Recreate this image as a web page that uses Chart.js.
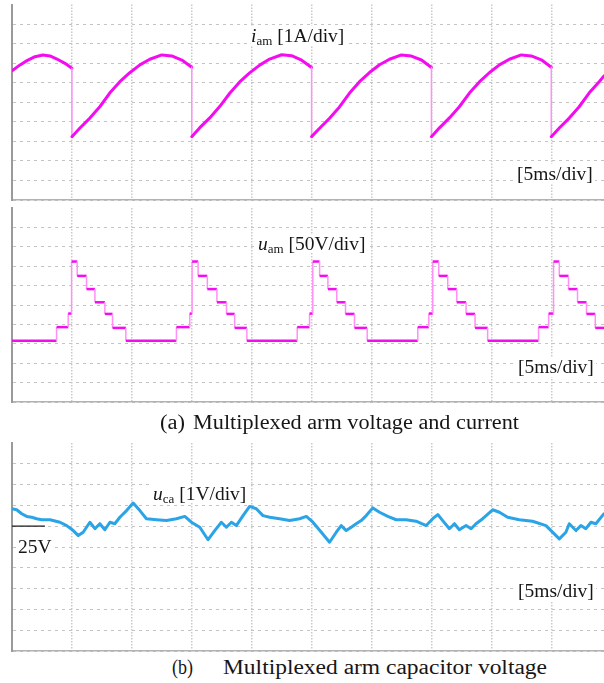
<!DOCTYPE html>
<html>
<head>
<meta charset="utf-8">
<script src="https://cdn.jsdelivr.net/npm/chart.js@4.4.1/dist/chart.umd.min.js"></script>
<style>
  html, body { margin: 0; padding: 0; background: #fff; }
  #page { position: relative; width: 604px; height: 683px; overflow: hidden;
          font-family: 'Liberation Serif', 'Times New Roman', serif; color: #161616; }
  canvas { position: absolute; left: 0; }
  .lbl { position: absolute; font-size: 19.5px; line-height: 19.5px; background: #fff;
         padding: 0 2px; white-space: nowrap; }
  .lbl sub { font-size: 13px; vertical-align: -3px; line-height: 0; }
  .cap { position: absolute; font-size: 20px; line-height: 20px; white-space: nowrap;
         transform-origin: 0 50%; }
</style>
</head>
<body>
<div id="page">
  <canvas id="cCurrent" width="604" height="202" style="top:0"></canvas>
  <canvas id="cVoltage" width="604" height="200" style="top:204px"></canvas>
  <canvas id="cCap" width="604" height="214" style="top:439px"></canvas>

  <div class="lbl" style="left:249px; top:25.5px"><i>i</i><sub>am</sub> [1A/div]</div>
  <div class="lbl" style="left:515px; top:163.5px">[5ms/div]</div>
  <div class="lbl" style="left:256px; top:233.5px"><i>u</i><sub>am</sub> [50V/div]</div>
  <div class="lbl" style="left:516px; top:357px">[5ms/div]</div>
  <div class="lbl" style="left:151px; top:483.5px"><i>u</i><sub>ca</sub> [1V/div]</div>
  <div class="lbl" style="left:16px; top:537px">25V</div>
  <div class="lbl" style="left:516px; top:581px">[5ms/div]</div>

  <div class="cap" id="capA1" style="left:160px; top:412px">(a)</div>
  <div class="cap" id="capA2" style="left:193px; top:412px">Multiplexed arm voltage and current</div>
  <div class="cap" id="capB1" style="left:172px; top:657px">(b)</div>
  <div class="cap" id="capB2" style="left:223px; top:657px">Multiplexed arm capacitor voltage</div>
</div>

<script>
// time base: 5 ms/div, screen ends a little before 50 ms
const T_END = 49.4;
const timeDivs = [0, 5, 10, 15, 20, 25, 30, 35, 40, 45];

// arm current i_am [A], 1 A/div
const currentDivs = [-5, -4, -3, -2, -1, 0, 1, 2, 3, 4];
const currentTime = [
  0, 0.67, 1.25, 1.92, 2.58, 3.17, 3.75, 4.42, 5,
  5, 5.67, 6.5, 7.33, 8.17, 9, 9.83, 10.67, 11.5, 12.5, 13.33, 14.17, 15,
  15, 15.67, 16.5, 17.33, 18.17, 19, 19.83, 20.67, 21.5, 22.5, 23.33, 24.17, 25,
  25, 25.67, 26.5, 27.33, 28.17, 29, 29.83, 30.67, 31.5, 32.5, 33.33, 34.17, 35,
  35, 35.67, 36.5, 37.33, 38.17, 39, 39.83, 40.67, 41.5, 42.5, 43.33, 44.17, 45,
  45, 45.67, 46.5, 47.33, 48.17, 49, 49.4
];
const currentVal = [
  1.61, 1.91, 2.13, 2.33, 2.42, 2.37, 2.21, 1.99, 1.74,
  -1.76, -1.32, -0.81, -0.23, 0.48, 1.05, 1.51, 1.91, 2.20, 2.42, 2.37, 2.16, 1.79,
  -1.76, -1.30, -0.80, -0.22, 0.46, 1.04, 1.50, 1.90, 2.21, 2.43, 2.38, 2.15, 1.78,
  -1.76, -1.33, -0.82, -0.24, 0.47, 1.05, 1.52, 1.92, 2.20, 2.42, 2.36, 2.16, 1.78,
  -1.76, -1.31, -0.80, -0.23, 0.47, 1.04, 1.51, 1.91, 2.20, 2.42, 2.37, 2.17, 1.79,
  -1.76, -1.32, -0.81, -0.23, 0.48, 1.05, 1.35
];

// arm voltage u_am [V], 50 V/div; each level holds until the next switching instant
const voltDivs = [-158, -108, -58, -8, 42, 92, 142, 192, 242, 292];
const voltTime = [
  0, 3.72, 4.69, 4.97, 5.44, 6.22, 6.92, 7.75, 8.39, 9.5,
  13.72, 14.83, 15.03, 15.53, 16.3, 17.1, 17.9, 18.58, 19.6,
  23.8, 24.83, 25.1, 25.67, 26.36, 27.1, 27.83, 28.58, 29.64,
  33.86, 34.78, 35.11, 35.61, 36.36, 37.11, 37.89, 38.64, 39.69,
  43.94, 44.78, 45.19, 45.67, 46.44, 47.19, 47.94, 48.67, 49.4
];
const voltLevel = [
  0, 35, 70, 204, 167, 133, 99, 69, 33, 0,
  35, 70, 204, 167, 133, 99, 69, 33, 0,
  35, 70, 204, 167, 133, 99, 69, 33, 0,
  35, 70, 204, 167, 133, 99, 69, 33, 0,
  35, 70, 204, 167, 133, 99, 69, 33, 33
];

// capacitor voltage u_ca [V], 1 V/div, 25 V reference
const capDivs = [19, 20, 21, 22, 23, 24, 25, 26, 27, 28];
const capRef = 25;
const capRefEnd = 2.75;
const capTime = [
  0, 0.39, 0.81, 1.23, 1.64, 2.06, 2.48, 3.17, 4.0, 4.56,
  5.11, 5.53, 5.94, 6.5, 6.92, 7.33, 7.75, 8.17, 8.58, 9.0,
  9.56, 10.11, 10.67, 11.22, 12.06, 12.89, 13.72, 14.42, 14.97, 15.67,
  16.36, 16.92, 17.47, 17.89, 18.31, 18.72, 19.28, 19.83, 20.39, 20.94,
  21.5, 22.33, 23.17, 24.0, 24.56, 25.11, 25.81, 26.5, 27.06, 27.47,
  27.89, 28.31, 28.72, 29.14, 29.56, 30.11, 30.67, 31.36, 32.06, 32.89,
  33.72, 34.56, 35.11, 35.53, 35.94, 36.5, 36.92, 37.33, 37.89, 38.31,
  38.72, 39.28, 40.11, 40.67, 41.36, 42.33, 43.44, 44.56, 45.67, 46.22,
  46.5, 47.06, 47.47, 47.89, 48.31, 48.72, 49.4
];
const capVolt = [
  25.84, 25.79, 25.60, 25.47, 25.43, 25.36, 25.31, 25.31, 25.19, 25.03,
  24.79, 24.55, 24.71, 25.19, 24.88, 25.12, 24.83, 25.19, 25.12, 25.43,
  25.75, 26.11, 25.75, 25.36, 25.31, 25.27, 25.36, 25.47, 25.19, 24.95,
  24.35, 24.79, 25.19, 24.95, 25.19, 25.03, 25.51, 25.95, 25.84, 25.51,
  25.43, 25.36, 25.27, 25.36, 25.47, 25.19, 24.71, 24.23, 24.71, 25.03,
  24.79, 24.95, 25.12, 25.27, 25.51, 25.88, 25.67, 25.47, 25.31, 25.31,
  25.24, 25.03, 25.36, 25.56, 25.27, 24.88, 25.12, 24.83, 25.03, 24.88,
  25.12, 25.36, 25.79, 25.67, 25.43, 25.31, 25.24, 25.03, 24.39, 24.71,
  25.12, 24.79, 25.03, 24.88, 25.19, 25.12, 25.60
];

const PINK       = '#f40cf0';
const PINK_EDGE  = '#ff90f6';
const BLUE       = '#2aa4e6';
const GRID_V     = '#c9c9c9';
const GRID_H     = '#c4c4c4';

const isVertical = c => c.p0.parsed.x === c.p1.parsed.x;

function zip(xs, ys) {
  return xs.map((x, i) => ({ x, y: ys[i] }));
}

// staircase corners from switching instants
function steps(ts, vs) {
  const pts = [{ x: ts[0], y: vs[0] }];
  for (let i = 1; i < ts.length; i++) {
    pts.push({ x: ts[i], y: vs[i - 1] });
    pts.push({ x: ts[i], y: vs[i] });
  }
  return pts;
}

function scopeChart(id, yMin, yMax, yDivs, datasets, padTop) {
  return new Chart(document.getElementById(id), {
    type: 'line',
    data: { datasets },
    options: {
      responsive: false,
      animation: false,
      events: [],
      layout: { padding: { left: 12, top: padTop, right: 0, bottom: 2 } },
      plugins: { legend: { display: false }, tooltip: { enabled: false } },
      elements: { point: { radius: 0 }, line: { tension: 0, borderJoinStyle: 'round', borderCapStyle: 'round' } },
      scales: {
        x: {
          type: 'linear', min: 0, max: T_END,
          afterBuildTicks: s => { s.ticks = timeDivs.map(v => ({ value: v })); },
          ticks: { display: false },
          grid: { color: GRID_V, lineWidth: 1.5, drawTicks: false },
          border: { color: '#b2b2b2', width: 1.5, dash: [1.5, 1.5] },
        },
        y: {
          type: 'linear', min: yMin, max: yMax,
          afterBuildTicks: s => { s.ticks = yDivs.map(v => ({ value: v })); },
          ticks: { display: false },
          grid: { color: GRID_H, lineWidth: 1, drawTicks: false },
          border: { color: '#9a9a9a', width: 2, dash: [3, 4] },
        },
      },
    },
  });
}

scopeChart('cCurrent', -5, 5, currentDivs, [{
  data: zip(currentTime, currentVal),
  borderColor: PINK,
  borderWidth: 3,
  segment: {
    borderColor: c => isVertical(c) ? PINK_EDGE : PINK,
    borderWidth: c => isVertical(c) ? 1.5 : 3,
  },
}], 4.5);

scopeChart('cVoltage', -158, 342, voltDivs, [{
  data: steps(voltTime, voltLevel),
  borderColor: PINK,
  borderWidth: 2.5,
  borderJoinStyle: 'miter',
  borderCapStyle: 'butt',
  segment: {
    borderColor: c => isVertical(c) ? PINK_EDGE : PINK,
    borderWidth: c => isVertical(c) ? 1.5 : 2.5,
  },
}], 4);

scopeChart('cCap', 19, 29, capDivs, [
  {
    data: zip(capTime, capVolt),
    borderColor: BLUE,
    borderWidth: 3,
  },
  {
    data: [{ x: 0, y: capRef }, { x: capRefEnd, y: capRef }],
    borderColor: '#1a1a1a',
    borderWidth: 1.2,
    borderCapStyle: 'butt',
  },
], 4);

// widen captions to the width they take in the figure (the original font is broader)
function fit(id, width) {
  const el = document.getElementById(id);
  const w = el.getBoundingClientRect().width;
  el.style.transform = 'scaleX(' + (width / w) + ')';
}
fit('capA1', 25);
fit('capA2', 326);
fit('capB1', 21);
fit('capB2', 324);
</script>
</body>
</html>
